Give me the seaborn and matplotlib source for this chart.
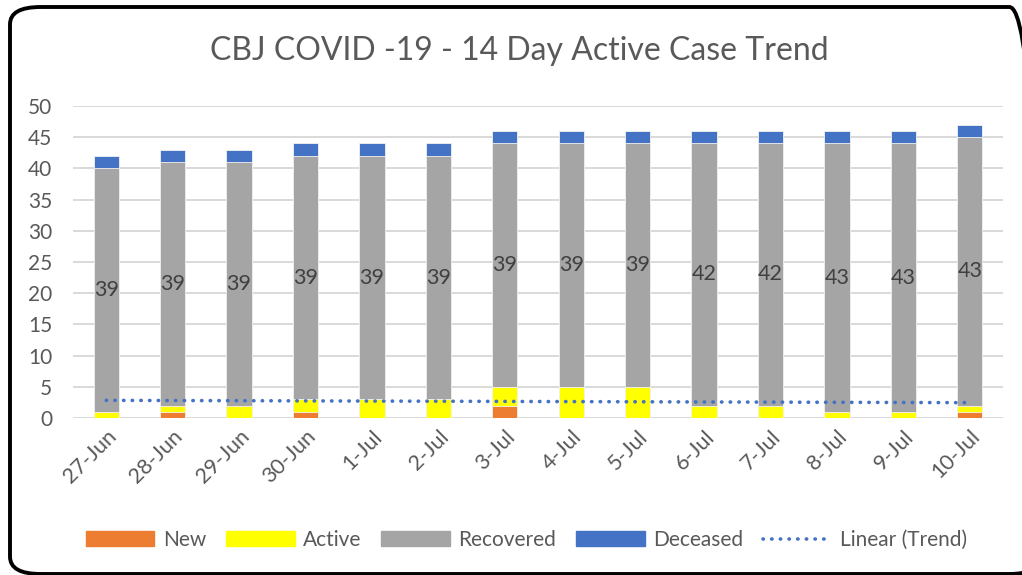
import numpy as np
import pandas as pd
import matplotlib
matplotlib.use("Agg")
import matplotlib.pyplot as plt
import seaborn as sns
from matplotlib.patches import FancyBboxPatch
from matplotlib.lines import Line2D
from matplotlib.patches import Patch

# 14 gunluk aktif vaka grafigi
gunler = ["27-Jun", "28-Jun", "29-Jun", "30-Jun", "1-Jul", "2-Jul", "3-Jul",
          "4-Jul", "5-Jul", "6-Jul", "7-Jul", "8-Jul", "9-Jul", "10-Jul"]
yeni = [0, 1, 0, 1, 0, 0, 2, 0, 0, 0, 0, 0, 0, 1]
aktif = [1, 1, 2, 2, 3, 3, 3, 5, 5, 2, 2, 1, 1, 1]
iyilesen = [39, 39, 39, 39, 39, 39, 39, 39, 39, 42, 42, 43, 43, 43]
olen = [2, 2, 2, 2, 2, 2, 2, 2, 2, 2, 2, 2, 2, 2]

df = pd.DataFrame({"gun": gunler, "New": yeni, "Active": aktif,
                   "Recovered": iyilesen, "Deceased": olen})
df["c_new"] = df["New"]
df["c_act"] = df["c_new"] + df["Active"]
df["c_rec"] = df["c_act"] + df["Recovered"]
df["c_dec"] = df["c_rec"] + df["Deceased"]

turuncu = "#ED7D31"
sari = "#FFFF00"
gri = "#A5A5A5"
mavi = "#4472C4"
yazi = "#595959"
noktali = (0, (0.1, 2.3))

sns.set_theme(style="white")
plt.rcParams["font.family"] = ["Lato", "DejaVu Sans"]

fig = plt.figure(figsize=(10.22, 5.75), dpi=100)
ax = fig.add_axes([73 / 1022, 1 - 418 / 575, 930 / 1022, 312 / 575])

# yigili bar: en uzundan kisaya ust uste ciziyorum
for kol, renk in [("c_dec", mavi), ("c_rec", gri), ("c_act", sari), ("c_new", turuncu)]:
    sns.barplot(data=df, x="gun", y=kol, color=renk, saturation=1, width=0.38,
                ax=ax, zorder=3, edgecolor="#F2F2F2", linewidth=0.6)

# recovered etiketleri segmentin ortasina
for i, r in df.iterrows():
    ax.text(i, r["c_act"] + r["Recovered"] / 2, str(r["Recovered"]),
            ha="center", va="center", fontsize=15.5, color="#404040", zorder=5)

# trend: aktif toplamina dogrusal fit (excel'deki linear trendline gibi)
xx = np.arange(len(gunler))
egim, kesisim = np.polyfit(xx, df["c_act"], 1)
ax.plot(xx, egim * xx + kesisim, color=mavi, ls=noktali, lw=2.6,
        dash_capstyle="round", zorder=6)

ax.set_ylim(0, 50)
ax.set_xlim(-0.5, len(gunler) - 0.5)
ax.set_yticks(range(0, 51, 5))
ax.yaxis.grid(True, color="#D9D9D9", lw=1.4, zorder=0)
ax.set_axisbelow(True)
for s in ax.spines.values():
    s.set_visible(False)
ax.set_xlabel("")
ax.set_ylabel("")
ax.tick_params(axis="y", length=0, pad=15, labelsize=15, labelcolor=yazi)
ax.tick_params(axis="x", length=0, pad=6, labelsize=15.5, labelcolor=yazi)
plt.setp(ax.get_xticklabels(), rotation=45, ha="right", rotation_mode="anchor")

fig.text(0.508, 1 - 51 / 575, "CBJ COVID -19 - 14 Day Active Case Trend",
         ha="center", va="center", fontsize=23, color=yazi)

el = [Patch(color=turuncu, label="New"), Patch(color=sari, label="Active"),
      Patch(color=gri, label="Recovered"), Patch(color=mavi, label="Deceased"),
      Line2D([], [], color=mavi, ls=noktali, lw=2.6, dash_capstyle="round",
             label="Linear (Trend)")]
leg = fig.legend(handles=el, loc="center", bbox_to_anchor=(0.515, 1 - 540 / 575),
                 ncol=5, frameon=False, fontsize=15, handlelength=3.3,
                 handletextpad=0.4, columnspacing=0.95)
for t in leg.get_texts():
    t.set_color(yazi)

# kenardaki yuvarlak siyah cerceve
cerceve = FancyBboxPatch((10 / 1022, 1 - 574 / 575), 1030 / 1022, 567 / 575,
                         boxstyle="round,pad=0,rounding_size=0.03",
                         transform=fig.transFigure, fill=False,
                         edgecolor="black", lw=2.8, clip_on=False)
fig.patches.append(cerceve)

fig.savefig("out.png", dpi=100)
